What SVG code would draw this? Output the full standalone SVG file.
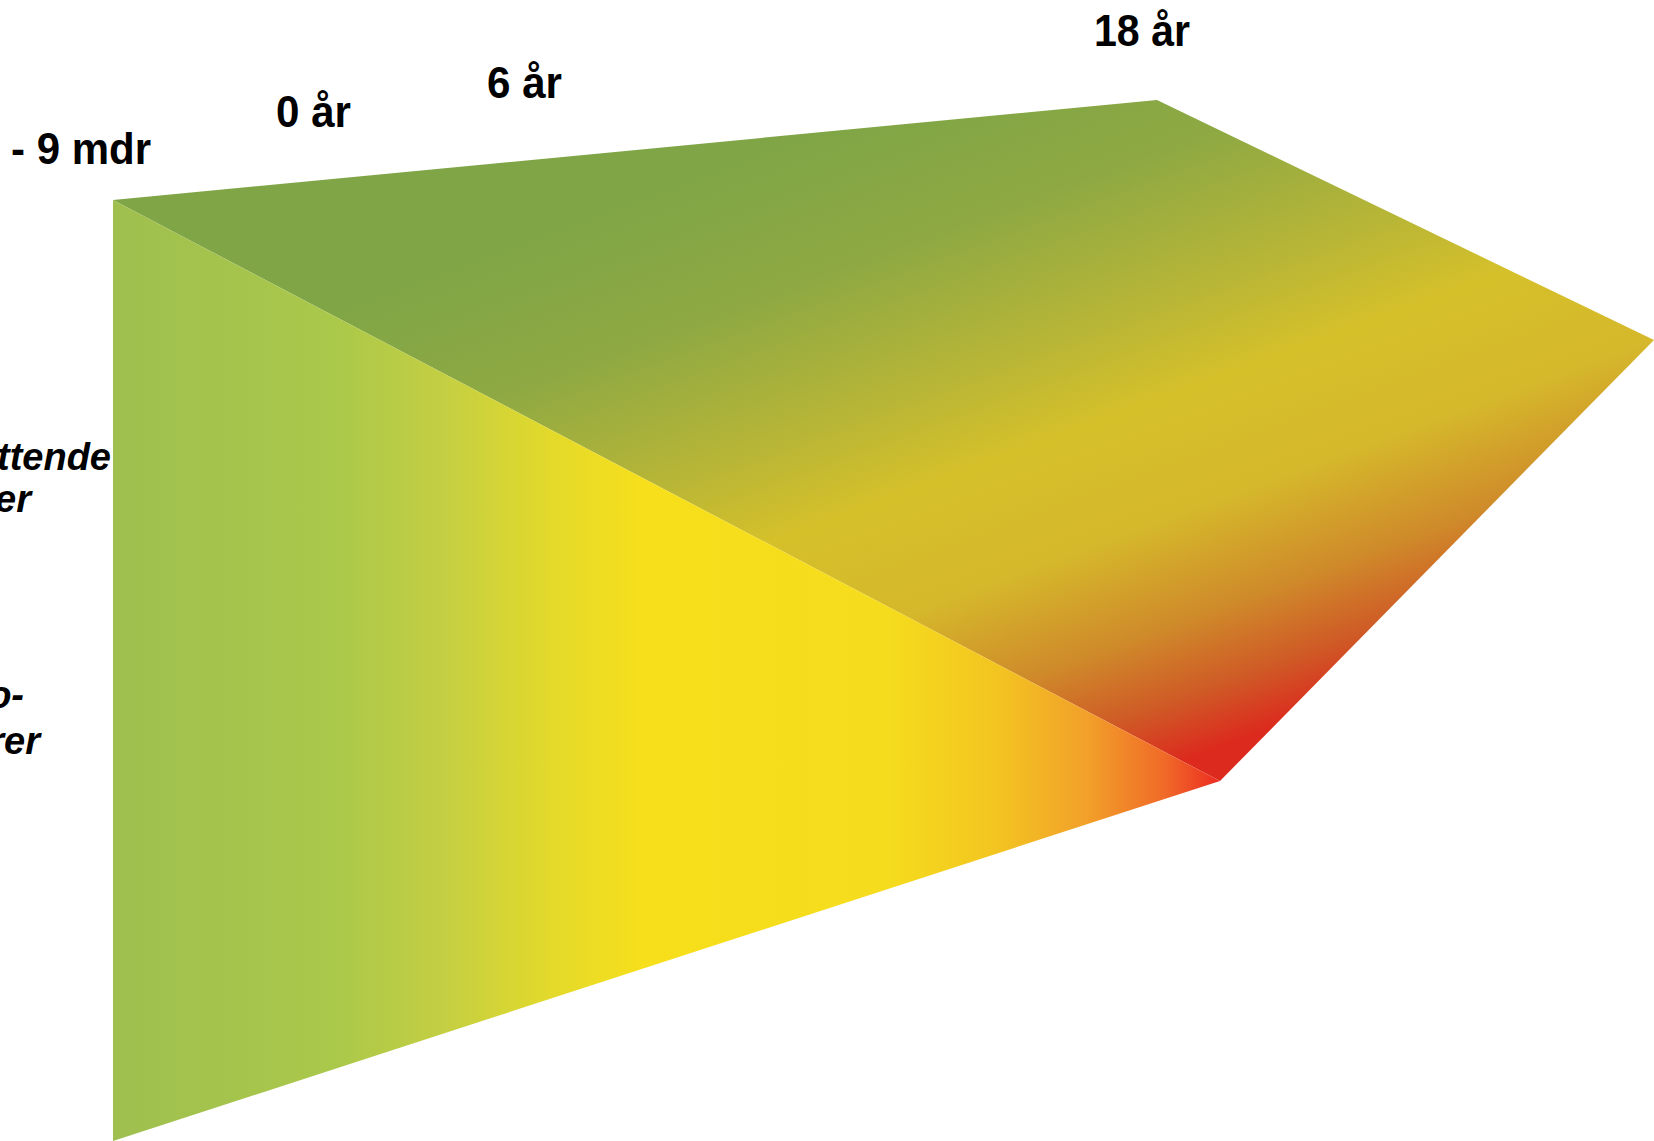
<svg xmlns="http://www.w3.org/2000/svg" width="1654" height="1141" viewBox="0 0 1654 1141">
<defs>
<linearGradient id="front" gradientUnits="userSpaceOnUse" x1="113" y1="0" x2="1220" y2="0">
<stop offset="0" stop-color="#9fbf4f"/>
<stop offset="0.2" stop-color="#aac84a"/>
<stop offset="0.3" stop-color="#c4cf42"/>
<stop offset="0.4" stop-color="#e4da2a"/>
<stop offset="0.48" stop-color="#f7df1b"/>
<stop offset="0.7" stop-color="#f5dc1d"/>
<stop offset="0.8" stop-color="#f3c421"/>
<stop offset="0.88" stop-color="#f2a02a"/>
<stop offset="0.95" stop-color="#f06a28"/>
<stop offset="1" stop-color="#ec2c22"/>
</linearGradient>
<linearGradient id="top" gradientUnits="userSpaceOnUse" x1="880" y1="100" x2="1130" y2="780">
<stop offset="0" stop-color="#7fa546"/>
<stop offset="0.2" stop-color="#8ea943"/>
<stop offset="0.4" stop-color="#b9b636"/>
<stop offset="0.52" stop-color="#d5c02a"/>
<stop offset="0.68" stop-color="#d5b82b"/>
<stop offset="0.82" stop-color="#cf8a2a"/>
<stop offset="0.92" stop-color="#cf5a26"/>
<stop offset="1" stop-color="#dc2a1e"/>
</linearGradient>
<style>
.lbl{font-family:"Liberation Sans",Arial,sans-serif;font-weight:bold;font-size:44px;fill:#000}
.side{font-family:"Liberation Sans",Arial,sans-serif;font-weight:bold;font-style:italic;font-size:38px;fill:#000}
</style>
</defs>
<rect width="1654" height="1141" fill="#ffffff"/>
<g id="prism">
<polygon id="top-face" points="113,200 1157,100 1654,340 1220,781" fill="url(#top)"/>
<polygon id="front-face" points="113,200 1220,781 113,1141" fill="url(#front)"/>
</g>
<g id="labels">
<text class="lbl" x="11" y="164" textLength="140" lengthAdjust="spacingAndGlyphs">- 9 mdr</text>
<text class="lbl" x="276" y="127" textLength="75" lengthAdjust="spacingAndGlyphs">0 år</text>
<text class="lbl" x="487" y="98" textLength="75" lengthAdjust="spacingAndGlyphs">6 år</text>
<text class="lbl" x="1094" y="46" textLength="96" lengthAdjust="spacingAndGlyphs">18 år</text>
</g>
<g id="side-labels">
<text class="side" x="111" y="470" text-anchor="end">ttende</text>
<text class="side" x="31" y="512" text-anchor="end">er</text>
<text class="side" x="24" y="708" text-anchor="end">o-</text>
<text class="side" x="40" y="754" text-anchor="end">rer</text>
</g>
</svg>
